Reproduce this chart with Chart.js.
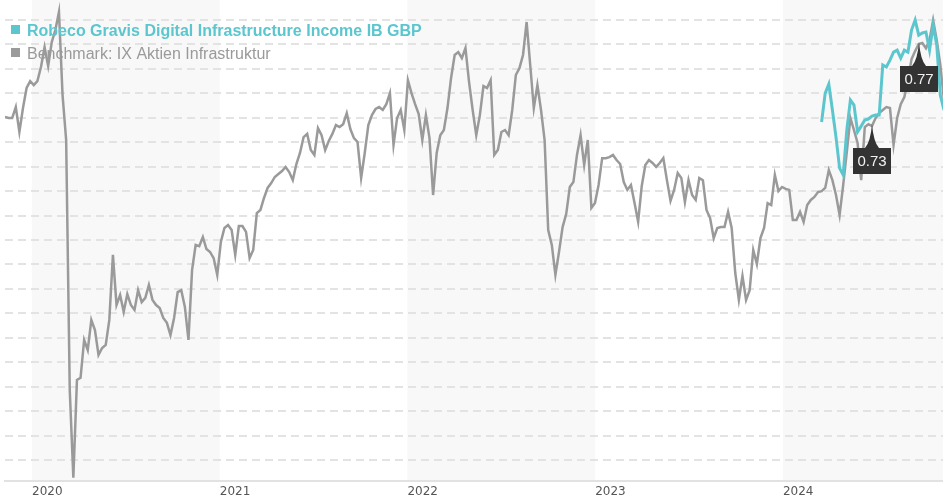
<!DOCTYPE html>
<html>
<head>
<meta charset="utf-8">
<script src="https://cdn.jsdelivr.net/npm/chart.js@4.4.1/dist/chart.umd.min.js"></script>
<style>
  html, body { margin: 0; padding: 0; background: #fff; }
  #wrap { width: 943px; height: 500px; }
</style>
</head>
<body>
<div id="wrap"><canvas id="perf" width="943" height="500"></canvas></div>
<script>
// weekly closes, first one in mid November 2019
const startYear = 2019.856;
const weeksPerYear = 52.18;
const yearTicks = [2020, 2021, 2022, 2023, 2024];
const shadedYears = [2020, 2022, 2024];
const gridValues = [10, 20, 30, 40, 50, 60, 70, 80, 90, 100, 110, 120, 130, 140, 150, 160, 170, 180, 190];

const benchName = 'Benchmark: IX Aktien Infrastruktur';
const benchValues = [
  150.3, 149.9, 149.9, 154.4, 144.2, 154.0, 162.2, 165.0, 163.4, 165.0,
  170.8, 178.9, 171.2, 181.0, 185.9, 193.3, 159.3, 140.9, 38.6, 2.7,
  42.7, 43.6, 59.1, 55.0, 67.3, 63.2, 53.0, 55.8, 57.1, 67.3,
  93.9, 73.4, 77.5, 70.6, 77.9, 73.4, 71.4, 79.5, 74.6, 76.3,
  81.6, 75.5, 73.4, 72.2, 68.1, 66.1, 61.1, 68.1, 78.7, 79.5,
  72.6, 59.1, 87.7, 98.0, 97.5, 101.2, 96.3, 95.1, 92.6, 85.7,
  99.2, 104.9, 106.1, 104.1, 93.9, 105.7, 105.7, 103.3, 92.6, 95.9,
  111.0, 112.3, 117.2, 121.3, 123.3, 125.8, 127.0, 128.2, 129.9, 127.8,
  124.5, 131.1, 135.6, 142.1, 143.4, 136.8, 134.8, 145.8, 142.9, 136.8,
  140.5, 143.4, 147.0, 146.2, 147.4, 151.9, 145.4, 141.7, 140.1, 125.4,
  135.6, 147.0, 151.1, 153.6, 154.4, 153.2, 155.6, 160.1, 138.9, 149.9,
  153.2, 145.0, 165.4, 160.1, 155.6, 151.5, 140.9, 151.1, 141.7, 118.4,
  135.6, 142.9, 145.0, 154.0, 166.3, 175.7, 176.9, 174.4, 178.5, 164.6,
  153.2, 142.9, 151.1, 163.0, 162.2, 165.4, 134.8, 136.8, 144.2, 145.0,
  142.9, 153.2, 167.5, 170.3, 175.7, 189.2, 171.6, 154.0, 163.4, 153.2,
  140.9, 104.1, 98.0, 85.7, 95.1, 105.3, 110.6, 121.7, 123.7, 134.8,
  142.9, 130.7, 140.9, 113.1, 115.1, 122.5, 133.5, 133.5, 133.9, 134.8,
  132.7, 131.1, 123.7, 120.5, 122.5, 115.1, 107.4, 122.1, 130.7, 132.7,
  131.5, 129.9, 131.5, 133.5, 124.5, 116.0, 120.5, 127.4, 125.4, 115.5,
  124.5, 118.4, 116.4, 125.4, 124.5, 112.3, 109.0, 100.8, 104.9, 105.3,
  105.3, 111.5, 104.9, 86.5, 75.5, 85.3, 75.5, 79.5, 95.9, 90.2,
  100.8, 104.9, 115.1, 114.3, 126.6, 120.0, 121.7, 120.9, 120.5, 108.2,
  108.2, 111.5, 107.4, 114.3, 116.4, 117.6, 119.6, 120.0, 121.3, 128.6,
  124.5, 118.4, 110.2, 122.5, 136.0, 149.9, 145.0, 139.7, 124.5, 146.2,
  147.4, 146.6, 149.9, 151.9, 153.2, 154.4, 154.0, 138.9, 149.9, 155.6,
  158.5, 165.4, 174.0, 177.3, 180.2, 180.6, 178.5, 181.8, 190.0, 181.8,
  171.6, 157.3
];

const fundName = 'Robeco Gravis Digital Infrastructure Income IB GBP';
const fundStartWeek = 227;
const fundValues = [
  148.3, 160.1, 163.8, 153.2, 142.1, 129.4, 126.6, 145.0, 157.3, 155.2,
  144.2, 146.6, 149.1, 149.5, 150.7, 151.1, 151.1, 171.6, 170.8, 173.6,
  176.9, 177.7, 174.4, 177.7, 176.9, 185.9, 190.0, 183.8, 184.7, 185.1,
  177.7, 187.9, 179.8, 159.3, 153.2
];

// distributions (week index, amount)
const payoutWeeks = [241, 254];
const payoutAmounts = [0.73, 0.77];

const fundColor = '#5cc6ce';
const benchColor = '#9a9a9a';

const weekX = i => startYear + i / weeksPerYear;

const benchData = benchValues.map((v, i) => ({ x: weekX(i), y: v }));
const fundData = fundValues.map((v, i) => ({ x: weekX(fundStartWeek + i), y: v }));

const extras = {
  id: 'extras',
  beforeDraw(chart) {
    const { ctx, chartArea: a, scales: { x } } = chart;
    ctx.save();
    ctx.fillStyle = '#f8f8f8';
    shadedYears.forEach(yr => {
      const l = Math.max(x.getPixelForValue(yr), a.left);
      const r = Math.min(x.getPixelForValue(yr + 1), a.right);
      ctx.fillRect(l, a.top, r - l, a.bottom - a.top);
    });
    ctx.restore();
  },
  afterDatasetsDraw(chart) {
    const { ctx, scales: { x, y } } = chart;
    ctx.save();
    // payout flags
    payoutWeeks.forEach((w, k) => {
      const px = Math.round(x.getPixelForValue(weekX(w)));
      const py = Math.round(y.getPixelForValue(benchValues[w])) - 2;
      ctx.fillStyle = '#333333';
      ctx.beginPath();
      ctx.moveTo(px, py);
      ctx.quadraticCurveTo(px + 1.5, py + 18, px + 7, py + 24);
      ctx.lineTo(px - 7, py + 24);
      ctx.quadraticCurveTo(px - 1.5, py + 18, px, py);
      ctx.closePath();
      ctx.fill();
      ctx.fillRect(px - 19, py + 24, 38, 26);
      ctx.fillStyle = '#f2f2f2';
      ctx.font = '15px "Liberation Sans", Arial, sans-serif';
      ctx.textAlign = 'center';
      ctx.textBaseline = 'middle';
      ctx.fillText(payoutAmounts[k].toFixed(2), px, py + 38);
    });
    // legend
    ctx.textAlign = 'left';
    ctx.textBaseline = 'alphabetic';
    ctx.fillStyle = fundColor;
    ctx.fillRect(11, 25, 9, 9);
    ctx.font = 'bold 16px "Liberation Sans", Arial, sans-serif';
    ctx.fillText(fundName, 27, 35.5);
    ctx.fillStyle = benchColor;
    ctx.fillRect(11, 48, 9, 9);
    ctx.font = '16px "Liberation Sans", Arial, sans-serif';
    ctx.fillText(benchName, 27, 59);
    ctx.restore();
  }
};

new Chart(document.getElementById('perf'), {
  type: 'line',
  data: {
    datasets: [{
      label: fundName,
      data: fundData,
      borderColor: fundColor,
      borderWidth: 3,
      pointRadius: 0,
      tension: 0,
      fill: false
    }, {
      label: benchName,
      data: benchData,
      borderColor: benchColor,
      borderWidth: 2.5,
      pointRadius: 0,
      tension: 0,
      fill: false
    }]
  },
  options: {
    responsive: false,
    devicePixelRatio: 1,
    animation: false,
    layout: { padding: { left: 5, right: 0, top: 0, bottom: 0 } },
    plugins: {
      legend: { display: false },
      tooltip: { enabled: false }
    },
    scales: {
      x: {
        type: 'linear',
        min: 2019.856,
        max: 2024.853,
        afterBuildTicks: axis => { axis.ticks = yearTicks.map(v => ({ value: v })); },
        afterFit: axis => { axis.height = 19; },
        grid: { display: true, color: 'transparent', drawTicks: false },
        border: { display: true, color: '#e2e2e2', width: 2 },
        ticks: {
          align: 'start',
          padding: 4,
          color: '#555',
          font: { family: 'DejaVu Sans', size: 12 },
          callback: v => String(v),
          maxRotation: 0
        }
      },
      y: {
        min: 1.4,
        max: 198.2,
        afterBuildTicks: axis => { axis.ticks = gridValues.map(v => ({ value: v })); },
        afterFit: axis => { axis.width = 0; },
        grid: { color: '#e3e3e3', lineWidth: 2, drawTicks: false },
        border: { display: false, dash: [8, 5] },
        ticks: { display: false }
      }
    }
  },
  plugins: [extras]
});
</script>
</body>
</html>
